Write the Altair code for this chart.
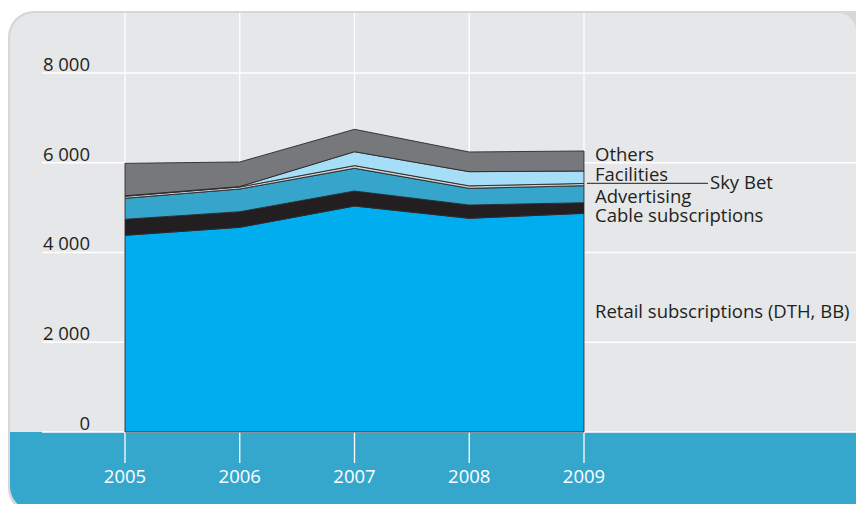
import altair as alt
import pandas as pd

# ---- data ----
years = [2005, 2006, 2007, 2008, 2009]
series = ["Retail subscriptions (DTH, BB)", "Cable subscriptions", "Advertising",
          "Sky Bet", "Facilities", "Others"]
retail = [4383, 4561, 5036, 4762, 4873]
cable = [357, 348, 334, 296, 237]
advertising = [468, 506, 506, 372, 379]
sky_bet = [45, 45, 60, 55, 50]
facilities = [10, 10, 310, 316, 277]
others = [725, 547, 499, 439, 446]
y_ticks = [0, 2000, 4000, 6000, 8000]
y_tick_labels = ["0", "2 000", "4 000", "6 000", "8 000"]

colors = ["#00adee", "#231f20", "#35a5cc", "#cfd1d2", "#a6def7", "#77787b"]

values = [retail, cable, advertising, sky_bet, facilities, others]
rows = []
for i, (name, vals) in enumerate(zip(series, values)):
    for yr, v in zip(years, vals):
        rows.append({"year": yr, "series": name, "value": v, "ord": i})
df = pd.DataFrame(rows)

W, H = 848, 496
FONT = "Open Sans"
TXT = "#231f20"

xs = alt.Scale(domain=[2003.9804, 2011.3704], nice=False, zero=False)
ys = alt.Scale(domain=[-1604.5, 9448.5], nice=False, zero=False)

one = alt.Data(values=[{"k": 0}])

shadow = alt.Chart(one).mark_rect(color="#cdcdcd", cornerRadiusTopLeft=26,
                                  cornerRadiusBottomLeft=26, opacity=0.8).encode(
    x=alt.value(0), x2=alt.value(870), y=alt.value(3), y2=alt.value(506))
panel = alt.Chart(one).mark_rect(color="#e6e7e9", cornerRadiusTopLeft=25,
                                 cornerRadiusTopRight=18).encode(
    x=alt.value(2), x2=alt.value(848), y=alt.value(5), y2=alt.value(440))
band = alt.Chart(one).mark_rect(color="#36a7cc", cornerRadiusBottomLeft=25).encode(
    x=alt.value(2), x2=alt.value(870), y=alt.value(424), y2=alt.value(503))

grid_df = pd.DataFrame({"v": y_ticks, "lab": y_tick_labels})
hgrid = alt.Chart(grid_df).mark_rule(color="white", strokeWidth=1.3).encode(
    y=alt.Y("v:Q", scale=ys, axis=None),
    x=alt.value(34),
    x2=alt.datum(2009),
)
year_df = pd.DataFrame({"year": years, "lab": [str(y) for y in years]})
vgrid = alt.Chart(year_df).mark_rule(color="white", strokeWidth=1.3).encode(
    x=alt.X("year:Q", scale=xs, axis=None),
    y=alt.value(5), y2=alt.value(455),
)

areas = alt.Chart(df).mark_area(stroke="#2b2829", strokeWidth=0.9,
                                interpolate="linear", opacity=1).encode(
    x=alt.X("year:Q", scale=xs, axis=None),
    y=alt.Y("value:Q", stack="zero", scale=ys, axis=None),
    color=alt.Color("series:N", scale=alt.Scale(domain=series, range=colors), legend=None),
    order=alt.Order("ord:Q", sort="ascending"),
)

ylabels = alt.Chart(grid_df).mark_text(font=FONT, fontSize=18.5, color=TXT,
                                       align="right", baseline="alphabetic", dy=-2).encode(
    y=alt.Y("v:Q", scale=ys, axis=None), x=alt.value(82), text="lab:N")

xlabels = alt.Chart(year_df).mark_text(font=FONT, fontSize=18.5, color="white",
                                       align="center", baseline="alphabetic").encode(
    x=alt.X("year:Q", scale=xs, axis=None), y=alt.value(474.7), text="lab:N")

def lab(text, x, y):
    return alt.Chart(one).mark_text(font=FONT, fontSize=18.5, color=TXT, align="left",
                                    baseline="alphabetic").encode(
        x=alt.value(x), y=alt.value(y), text=alt.value(text))

labels = [
    lab("Others", 587, 152.7),
    lab("Facilities", 587, 172.7),
    lab("Sky Bet", 702, 181.3),
    lab("Advertising", 587, 194.7),
    lab("Cable subscriptions", 587, 213.7),
    lab("Retail subscriptions (DTH, BB)", 587, 310.3),
]
leader = alt.Chart(one).mark_rule(color=TXT, strokeWidth=1).encode(
    x=alt.value(579), x2=alt.value(700), y=alt.value(175.3))

chart = alt.layer(shadow, panel, band, hgrid, vgrid, areas, ylabels, xlabels,
                  leader, *labels).properties(
    width=W, height=H, autosize=alt.AutoSizeParams(type="none"), padding=0,
    background="white",
).configure_view(stroke=None)

chart.save("out.html", embed_options={"renderer": "svg", "actions": False})
